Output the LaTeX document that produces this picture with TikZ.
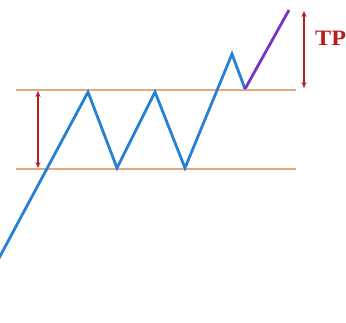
\documentclass[tikz,border=0pt]{standalone}
\usepackage{fontspec}
\setmainfont{Liberation Serif}
\usetikzlibrary{arrows.meta}
\definecolor{levelcol}{RGB}{222,170,130}
\definecolor{pricecol}{RGB}{40,128,210}
\definecolor{tpcol}{RGB}{120,50,200}
\definecolor{arrcol}{RGB}{185,30,30}
\tikzset{
	level/.style={levelcol, line width=2.2pt},
	price/.style={pricecol, line width=2.8pt, line join=miter},
	target/.style={tpcol, line width=2.8pt},
	span/.style={arrcol, line width=2.2pt, {Stealth[length=6pt,width=5pt]}-{Stealth[length=6pt,width=5pt]}}
}
\begin{document}
\begin{tikzpicture}[x=1pt,y=-1pt]
					\useasboundingbox (0,0) rectangle (346,322);
					\coordinate (L1) at (16,90);
					\coordinate (R1) at (296,90);
					\coordinate (L2) at (16,169);
					\coordinate (R2) at (296,169);
					\coordinate (P0) at (-2,260);
					\coordinate (P1) at (88,92);
					\coordinate (P2) at (117,168);
					\coordinate (P3) at (155,92);
					\coordinate (P4) at (185,168);
					\coordinate (P5) at (232,54);
					\coordinate (P6) at (245,89);
					\coordinate (P7) at (289,10);
					\coordinate (A1) at (38,91);
					\coordinate (A2) at (38,168);
					\coordinate (B1) at (304,11);
					\coordinate (B2) at (304,88);
					\draw [level] (L1) -- (R1);
					\draw [level] (L2) -- (R2);
					\draw [price] (P0) -- (P1) -- (P2) -- (P3) -- (P4) -- (P5) -- (P6);
					\draw [target] (P6) -- (P7);
					\draw [span] (A1) -- (A2);
					\draw [span] (B1) -- (B2);
					\node [arrcol, anchor=west, inner sep=0pt, xscale=1.1, font=\fontsize{22}{22}\selectfont\bfseries] (tp) at (315,38) {TP};
				\end{tikzpicture}
\end{document}
